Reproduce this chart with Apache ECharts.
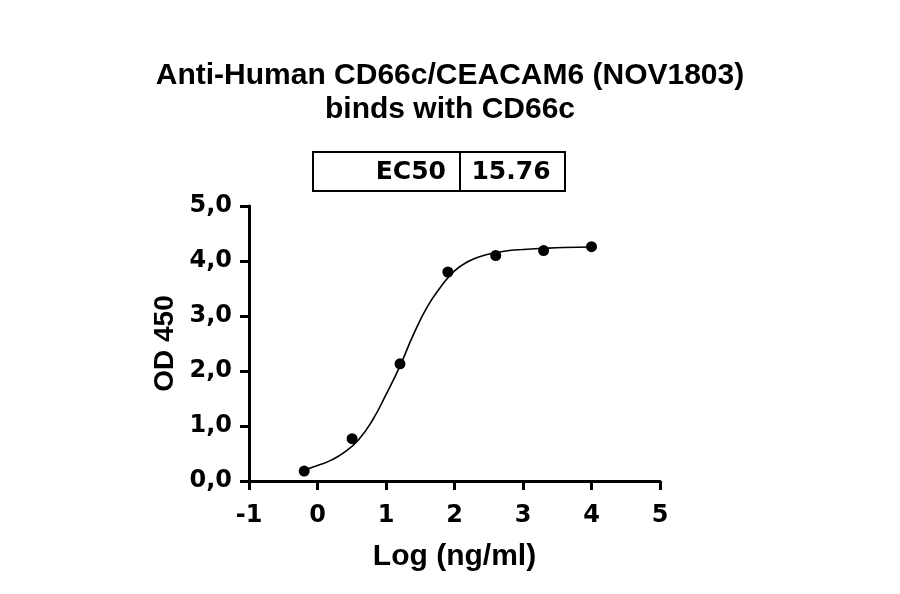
<!DOCTYPE html>
<html>
<head>
<meta charset="utf-8">
<script src="https://cdn.jsdelivr.net/npm/echarts@6/dist/echarts.min.js"></script>
<style>html,body{margin:0;padding:0;background:#fff}#c{width:900px;height:594px}</style>
</head>
<body>
<div id="c"></div>
<script>
const titleText = "Anti-Human CD66c/CEACAM6 (NOV1803)\nbinds with CD66c";
const xName = "Log (ng/ml)";
const yName = "OD 450";
const ec50Label = "EC50";
const ec50Value = "15.76";
// measured points
const pointX = [-0.194, 0.505, 1.204, 1.903, 2.602, 3.301, 4.0];
const pointY = [0.18, 0.77, 2.13, 3.80, 4.10, 4.19, 4.26];
// fitted curve
const curveX = [-0.194, 0.0, 0.2, 0.4, 0.6, 0.8, 1.0, 1.2, 1.4, 1.6, 1.8, 2.0, 2.2, 2.4, 2.6, 2.8, 3.0, 3.3, 3.6, 4.0];
const curveY = [0.20, 0.28, 0.38, 0.53, 0.75, 1.10, 1.57, 2.08, 2.66, 3.16, 3.53, 3.82, 3.99, 4.09, 4.15, 4.19, 4.21, 4.23, 4.245, 4.255];

const font = '"Liberation Sans", Arial, sans-serif';
const wideFont = '"DejaVu Sans", sans-serif';
const chart = echarts.init(document.getElementById('c'), null, {renderer: 'canvas'});
chart.setOption({
  backgroundColor: '#fff',
  animation: false,
  title: {
    text: titleText, left: 'center', top: 54,
    textStyle: {fontFamily: font, fontWeight: 'bold', fontSize: 30, lineHeight: 34, color: '#000'}
  },
  grid: {left: 249, right: 240, top: 206, bottom: 113, containLabel: false},
  xAxis: {
    type: 'value', min: -1, max: 5, interval: 1,
    name: xName, nameLocation: 'middle', nameGap: 61,
    nameTextStyle: {fontFamily: font, fontWeight: 'bold', fontSize: 30, color: '#000'},
    axisLine: {onZero: false, lineStyle: {color: '#000', width: 3}},
    axisTick: {length: 9, lineStyle: {color: '#000', width: 3}},
    axisLabel: {margin: 23, fontFamily: wideFont, fontWeight: 'bold', fontSize: 24, color: '#000'},
    splitLine: {show: false}
  },
  yAxis: {
    type: 'value', min: 0, max: 5, interval: 1,
    name: yName, nameLocation: 'middle', nameGap: 70, nameRotate: 90,
    nameTextStyle: {fontFamily: font, fontWeight: 'bold', fontSize: 28, color: '#000'},
    axisLine: {onZero: false, lineStyle: {color: '#000', width: 3}},
    axisTick: {length: 9, lineStyle: {color: '#000', width: 3}},
    axisLabel: {margin: 17, fontFamily: wideFont, fontWeight: 'bold', fontSize: 24, color: '#000',
      formatter: v => v.toFixed(1).replace('.', ',')},
    splitLine: {show: false}
  },
  series: [
    {
      type: 'line', smooth: true, symbol: 'none',
      data: curveX.map((x, i) => [x, curveY[i]]),
      lineStyle: {color: '#000', width: 1.6}, z: 2
    },
    {
      type: 'scatter', symbol: 'circle', symbolSize: 11,
      data: pointX.map((x, i) => [x, pointY[i]]),
      itemStyle: {color: '#000', opacity: 1}, z: 3
    }
  ],
  graphic: [
    {type: 'rect', shape: {x: 313, y: 152, width: 252, height: 39},
     style: {fill: '#fff', stroke: '#000', lineWidth: 2}},
    {type: 'line', shape: {x1: 460, y1: 152, x2: 460, y2: 191},
     style: {stroke: '#000', lineWidth: 2}},
    {type: 'text', x: 446, y: 172,
     style: {text: ec50Label, fill: '#000', font: 'bold 25px ' + wideFont, textAlign: 'right', textVerticalAlign: 'middle'}},
    {type: 'text', x: 511, y: 172,
     style: {text: ec50Value, fill: '#000', font: 'bold 25px ' + wideFont, textAlign: 'center', textVerticalAlign: 'middle'}}
  ]
});
</script>
</body>
</html>
